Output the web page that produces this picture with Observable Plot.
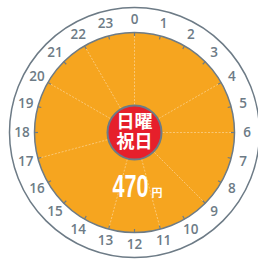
<!DOCTYPE html>
<html><head><meta charset="utf-8">
<script src="https://cdn.jsdelivr.net/npm/d3@7"></script>
<script src="https://cdn.jsdelivr.net/npm/@observablehq/plot@0.6"></script>
<style>html,body{margin:0;padding:0;background:#fff}</style>
</head><body><div id="chart"></div>
<script>
const hours = d3.range(24);
const boundaries = [0, 4, 6, 9, 11, 13, 17, 20, 22];
const dayLines = ["日曜", "祝日"];
const priceValue = ["470"];
const priceUnit = ["円"];

const W = 258, H = 260;
const ang = h => h / 24 * 2 * Math.PI;
const px = (h, r) => r * Math.sin(ang(h));
const py = (h, r) => r * Math.cos(ang(h));

const gray = "#6d7b86";
const orange = "#f6a51f";
const red = "#e61f2b";

const center = [{x: 0, y: 0}];
const chart = Plot.plot({
  width: W, height: H,
  margin: 0,
  x: {domain: [-134, 124], range: [0, W], axis: null},
  y: {domain: [-128, 132], range: [H, 0], axis: null},
  marks: [
    Plot.dot(center, {x: "x", y: "y", r: 125, fill: "none", stroke: gray, strokeWidth: 1.5}),
    Plot.dot(center, {x: "x", y: "y", r: 100, fill: orange, stroke: gray, strokeWidth: 1.5}),
    Plot.link(boundaries, {x1: () => 0, y1: () => 0, x2: h => px(h, 99), y2: h => py(h, 99),
      stroke: "#fff", strokeOpacity: 0.55, strokeWidth: 0.7, strokeDasharray: "2,1.5"}),
    Plot.link(hours, {x1: h => px(h, 96.5), y1: h => py(h, 96.5), x2: h => px(h, 100), y2: h => py(h, 100),
      stroke: gray, strokeWidth: 1.2}),
    Plot.text(hours, {x: h => px(h, 112.5), y: h => py(h, 112.5), text: h => String(h),
      fill: gray, fontSize: 13.5, fontWeight: 600, fontFamily: "Open Sans", textAnchor: "middle", lineAnchor: "middle"}),
    Plot.dot(center, {x: "x", y: "y", r: 27, fill: red, stroke: gray, strokeWidth: 2}),
    Plot.text(dayLines, {x: () => 0, y: (d, i) => 10.5 - i * 20.5, text: d => d, fill: "#fff",
      fontSize: 18, fontWeight: "bold", fontFamily: "Noto Sans CJK JP", textAnchor: "middle", lineAnchor: "middle"}),
    Plot.text(priceValue, {x: () => -4, y: () => -55, text: d => d, fill: "#fff", className: "price",
      fontSize: 31, fontWeight: "bold", fontFamily: "Liberation Sans, sans-serif", textAnchor: "middle", lineAnchor: "middle"}),
    Plot.text(priceUnit, {x: () => 22.5, y: () => -60.5, text: d => d, fill: "#fff",
      fontSize: 11, fontWeight: "bold", fontFamily: "Noto Sans CJK JP", textAnchor: "middle", lineAnchor: "middle"})
  ]
});
chart.querySelectorAll(".price text").forEach(t => {
  t.setAttribute("textLength", "36");
  t.setAttribute("lengthAdjust", "spacingAndGlyphs");
});
document.getElementById("chart").append(chart);
</script>
</body></html>
